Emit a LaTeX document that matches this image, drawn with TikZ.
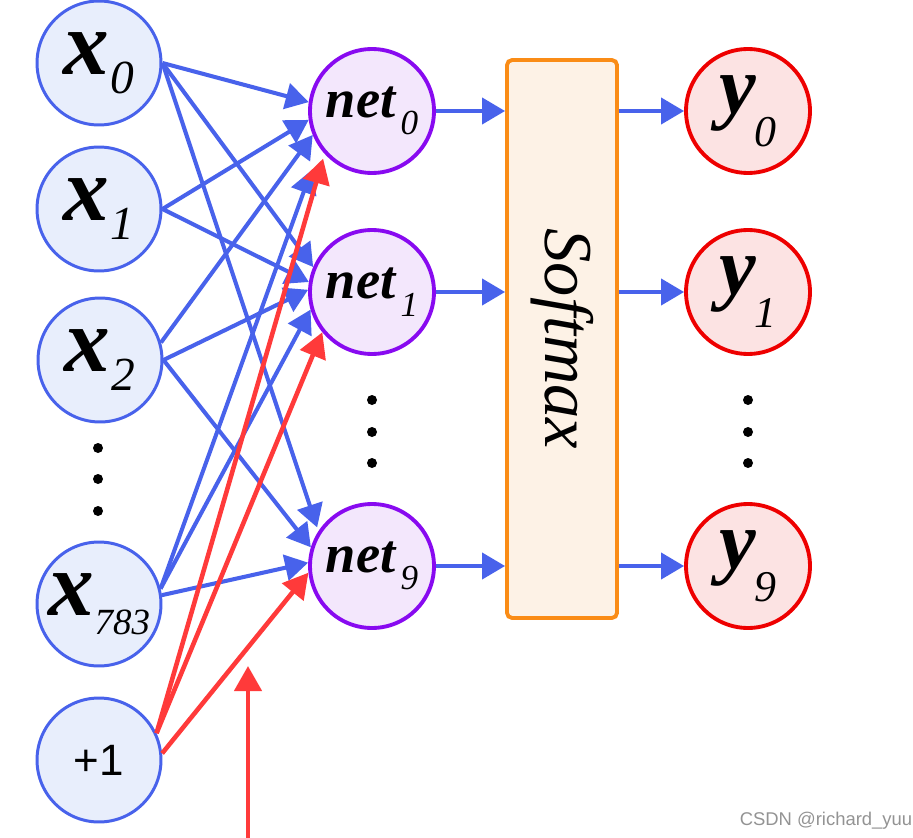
\documentclass[tikz,border=0pt]{standalone}
\usepackage{fontspec}
\usepackage{graphicx}
\newfontfamily\arialfont{Liberation Sans}
\newfontfamily\labfont{Liberation Serif}
\usetikzlibrary{arrows.meta}

\definecolor{lineblue}{RGB}{72,98,235}
\definecolor{infill}{RGB}{232,238,252}
\definecolor{netviolet}{RGB}{136,10,240}
\definecolor{netfill}{RGB}{243,231,252}
\definecolor{outred}{RGB}{238,0,0}
\definecolor{outfill}{RGB}{252,227,227}
\definecolor{biasred}{RGB}{255,58,58}
\definecolor{boxorange}{RGB}{250,140,22}
\definecolor{boxfill}{RGB}{253,242,230}

\newcommand{\xlab}[2]{{\labfont\fontsize{52}{52}\selectfont\bfseries\itshape x}\kern0.5pt\raisebox{-11pt}{\labfont\fontsize{#2}{#2}\selectfont\itshape #1}}
\newcommand{\netlab}[1]{{\labfont\fontsize{31}{31}\selectfont\bfseries\itshape net}\kern3pt\raisebox{-10pt}{\labfont\fontsize{20}{20}\selectfont\itshape #1}}
\newcommand{\ylab}[1]{{\labfont\fontsize{47}{47}\selectfont\bfseries\itshape y}\kern-1pt\raisebox{-19pt}{\labfont\fontsize{25}{25}\selectfont\itshape #1}}

\begin{document}
\begin{tikzpicture}[x=0.02cm,y=-0.02cm,
	inp/.style={circle,draw=lineblue,fill=infill,line width=1.7pt,minimum size=2.48cm,inner sep=0pt},
	hid/.style={circle,draw=netviolet,fill=netfill,line width=2.2pt,minimum size=2.48cm,inner sep=0pt},
	outp/.style={circle,draw=outred,fill=outfill,line width=2.2pt,minimum size=2.48cm,inner sep=0pt},
	smax/.style={rectangle,draw=boxorange,fill=boxfill,line width=2.2pt,rounded corners=0.1cm,minimum width=2.2cm,minimum height=11.16cm,inner sep=0pt},
	w/.style={->,>={Triangle[length=0.46cm,width=0.52cm]},draw=lineblue,fill=lineblue,line width=2.3pt},
	b/.style={->,>={Triangle[length=0.5cm,width=0.54cm]},draw=biasred,fill=biasred,line width=2.6pt}
]
	\useasboundingbox (0,0) rectangle (913,838);

	% inputs
	\node[inp] (x0) at (99,63) {\xlab{0}{27}};
	\node[inp] (x1) at (99,209) {\xlab{1}{27}};
	\node[inp] (x2) at (100,360) {\xlab{2}{27}};
	\node[inp] (x783) at (99,604) {\xlab{783}{21}};
	\node[inp] (one) at (99,760) {\arialfont\fontsize{25}{25}\selectfont +1};

	% weighted sums
	\node[hid] (net0) at (372,111) {\netlab{0}};
	\node[hid] (net1) at (372,292) {\netlab{1}};
	\node[hid] (net9) at (372,566) {\netlab{9}};

	\node[smax] (soft) at (562,339) {\rotatebox{-90}{\labfont\fontsize{39}{39}\selectfont\itshape Softmax}};

	% outputs
	\node[outp] (y0) at (748,111) {\ylab{0}};
	\node[outp] (y1) at (748,292) {\ylab{1}};
	\node[outp] (y9) at (748,566) {\ylab{9}};

	\foreach \cy in {448,479,511} \fill (98,\cy) circle (0.1cm);
	\foreach \cy in {400,432,463} {
		\fill (372,\cy) circle (0.1cm);
		\fill (748,\cy) circle (0.1cm);
	}

	% weights
	\draw[w] (x0.east) -- (net0.172);
	\draw[w] (x0.east) -- (net1.157);
	\draw[w,shorten >=0.08cm] (x0.east) -- (net9.147);
	\draw[w] (x1.east) -- (net0.188);
	\draw[w] (x1.east) -- (net1.171);
	\draw[w] (x2.16) -- (net0.202);
	\draw[w] (x2.east) -- (net1.178);
	\draw[w] (x2.east) -- (net9.163);
	\draw[w,shorten >=0.48cm] (x783.14) -- (net0.215);
	\draw[w] (x783.14) -- (net1.196);
	\draw[w] (x783.8) -- (net9.177);

	% biases
	\draw[b,shorten >=0.1cm] (one.25) -- (net0.222);
	\draw[b] (one.25) -- (net1.219);
	\draw[b] (one.6) -- (net9.186);

	\coordinate (bfoot) at (248,838);
	\coordinate (bhead) at (248,666);
	\draw[b] (bfoot) -- (bhead);

	\draw[w] (net0.east) -- (net0.east -| soft.west);
	\draw[w] (net1.east) -- (net1.east -| soft.west);
	\draw[w] (net9.east) -- (net9.east -| soft.west);
	\draw[w] (soft.east |- y0.west) -- (y0.west);
	\draw[w] (soft.east |- y1.west) -- (y1.west);
	\draw[w] (soft.east |- y9.west) -- (y9.west);

	\node[text=gray!85,font=\arialfont\fontsize{10.5}{10.5}\selectfont] (mark) at (826,821) {CSDN @richard\_yuu};

\end{tikzpicture}
\end{document}
